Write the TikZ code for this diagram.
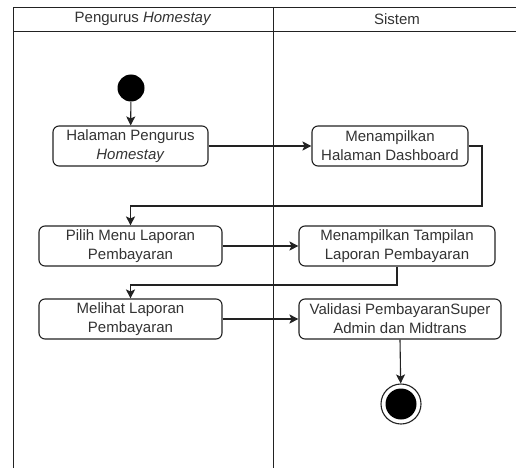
\documentclass[tikz,border=0pt]{standalone}
\usepackage{fontspec}
\setmainfont{Liberation Sans}
\usetikzlibrary{arrows.meta}
\definecolor{ink}{HTML}{222222}
\definecolor{txt}{HTML}{333333}
\begin{document}
\begin{tikzpicture}[x=1pt,y=-1pt,
  act/.style={draw=ink, line width=1.1pt, rounded corners=6pt, fill=white,
    minimum height=40pt, inner sep=0pt, align=center, text=txt,
    font=\fontsize{15}{19}\selectfont},
  flow/.style={draw=ink, line width=1.1pt, -{Stealth[length=9pt,width=9pt,inset=2pt]}},
  lane/.style={draw=ink, line width=0.9pt},
  hdr/.style={text=txt, font=\fontsize{15}{18}\selectfont, inner sep=0pt}]
\useasboundingbox (0,0) rectangle (516,468);
% swimlane frame
\draw[lane] (13,468) -- (13,7) -- (516,7);
\draw[lane] (13,31) -- (516,31);
\draw[lane] (273,7) -- (273,468);
\node[hdr] (h1) at (143,19) {Pengurus \textit{Homestay}};
\node[hdr] (h2) at (397,19) {Sistem};
% start / end
\node[circle, fill=black, minimum size=27pt, inner sep=0pt] (s) at (131,88) {};
\node[circle, draw=ink, line width=1.1pt, fill=white, minimum size=40pt, inner sep=0pt] (e) at (401,404) {};
\node[circle, fill=black, minimum size=31pt, inner sep=0pt] (ein) at (401,404) {};
% activities
\node[act, minimum width=155pt] (n1) at (130.5,146) {Halaman Pengurus\\\textit{Homestay}};
\node[act, minimum width=156pt] (n2) at (390,146) {Menampilkan\\Halaman Dashboard};
\node[act, minimum width=183pt] (n3) at (130.5,246) {Pilih Menu Laporan\\Pembayaran};
\node[act, minimum width=196pt] (n4) at (397,246) {Menampilkan Tampilan\\Laporan Pembayaran};
\node[act, minimum width=183pt] (n5) at (130.5,319) {Melihat Laporan\\Pembayaran};
\node[act, minimum width=202pt] (n6) at (400,319) {Validasi PembayaranSuper\\Admin dan Midtrans};
% bends
\coordinate (c1) at (482,206);
\coordinate (c2) at (397,285);
% flows
\draw[flow] (s) -- (n1);
\draw[flow] (n1) -- (n2);
\draw[flow] (n2.east) -| (c1) -| (n3.north);
\draw[flow] (n3) -- (n4);
\draw[flow] (n4.south) -- (c2) -| (n5.north);
\draw[flow] (n5) -- (n6);
\draw[flow] (n6.south) -- (e);
\end{tikzpicture}
\end{document}
